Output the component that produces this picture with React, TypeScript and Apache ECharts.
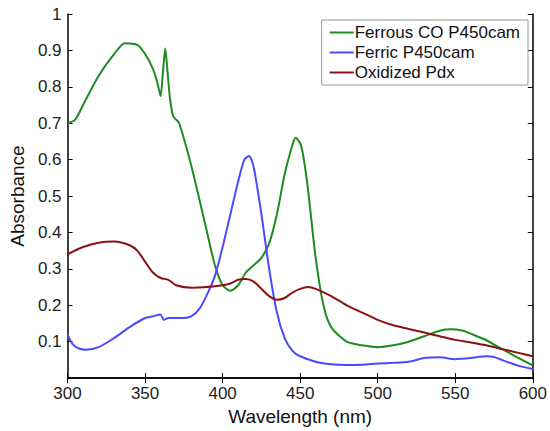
import React, { useEffect, useRef } from "react";
import * as echarts from "echarts";

const ferrousX = [300, 305, 310, 320, 330, 337, 345, 350, 355, 358, 360, 361.5, 363, 364.5, 366, 368, 370, 372, 380, 390, 395, 400, 405, 410, 415, 420, 425, 430, 435, 440, 445, 447, 450, 452, 455, 460, 465, 470, 480, 490, 500, 510, 520, 530, 540, 547, 555, 560, 570, 580, 590, 600];
const ferrousY = [0.70, 0.71, 0.75, 0.83, 0.89, 0.92, 0.915, 0.89, 0.85, 0.81, 0.775, 0.84, 0.905, 0.84, 0.77, 0.72, 0.71, 0.70, 0.58, 0.40, 0.31, 0.255, 0.24, 0.255, 0.29, 0.31, 0.33, 0.37, 0.45, 0.56, 0.64, 0.66, 0.645, 0.61, 0.52, 0.33, 0.20, 0.14, 0.10, 0.09, 0.085, 0.09, 0.10, 0.115, 0.13, 0.134, 0.13, 0.122, 0.104, 0.08, 0.057, 0.035];

const ferricX = [300, 303, 307, 312, 320, 330, 340, 350, 355, 360, 362, 365, 370, 375, 380, 385, 390, 395, 400, 405, 410, 414, 417, 420, 425, 430, 435, 440, 445, 450, 460, 470, 480, 490, 500, 510, 520, 530, 540, 550, 560, 570, 575, 580, 590, 600];
const ferricY = [0.12, 0.095, 0.082, 0.078, 0.085, 0.11, 0.14, 0.165, 0.17, 0.175, 0.16, 0.165, 0.165, 0.165, 0.17, 0.19, 0.23, 0.28, 0.36, 0.45, 0.54, 0.60, 0.61, 0.58, 0.45, 0.30, 0.18, 0.11, 0.075, 0.06, 0.045, 0.038, 0.036, 0.037, 0.040, 0.042, 0.045, 0.055, 0.057, 0.052, 0.055, 0.060, 0.058, 0.05, 0.035, 0.025];

const pdxX = [300, 310, 320, 330, 340, 345, 350, 355, 360, 365, 370, 380, 390, 400, 405, 410, 415, 420, 425, 430, 435, 440, 445, 450, 455, 460, 470, 480, 490, 500, 510, 520, 530, 540, 550, 560, 570, 580, 590, 600];
const pdxY = [0.34, 0.36, 0.372, 0.375, 0.365, 0.35, 0.32, 0.29, 0.275, 0.27, 0.255, 0.248, 0.25, 0.255, 0.26, 0.27, 0.272, 0.265, 0.245, 0.225, 0.215, 0.22, 0.235, 0.245, 0.25, 0.245, 0.225, 0.2, 0.18, 0.16, 0.145, 0.135, 0.125, 0.115, 0.105, 0.098, 0.09, 0.08, 0.07, 0.06];

const seriesNames = ["Ferrous CO P450cam", "Ferric P450cam", "Oxidized Pdx"];
const seriesColors = ["#1f8c1f", "#4a4aff", "#8b1111"];

const zip = (xs: number[], ys: number[]) => xs.map((x, i) => [x, ys[i]]);

export default function App() {
  const ref = useRef<HTMLDivElement>(null);
  useEffect(() => {
    if (!ref.current) return;
    const chart = echarts.init(ref.current, null, { renderer: "svg" });
    const font = "Liberation Sans, Arial, sans-serif";
    const axisLine = { show: true, lineStyle: { color: "#000", width: 1.5 } };
    const tick = { show: true, inside: true, length: 5, lineStyle: { color: "#000" } };
    chart.setOption({
      animation: false,
      backgroundColor: "#fff",
      textStyle: { fontFamily: font },
      grid: { left: 59, right: 17, top: 14, bottom: 42 },
      legend: {
        right: 22,
        top: 20,
        orient: "vertical",
        itemWidth: 24,
        itemHeight: 2,
        itemGap: 3,
        padding: [4, 8, 4, 8],
        borderColor: "#999",
        borderWidth: 1,
        backgroundColor: "#fff",
        icon: "rect",
        textStyle: { fontSize: 17, color: "#111", fontFamily: font, padding: [0, 0, 0, -4] },
        data: seriesNames,
      },
      xAxis: [
        {
          type: "value",
          min: 300,
          max: 600,
          interval: 50,
          name: "Wavelength (nm)",
          nameLocation: "middle",
          nameGap: 23,
          nameTextStyle: { fontSize: 19, color: "#111", fontFamily: font },
          axisLine,
          axisTick: tick,
          axisLabel: { fontSize: 17, color: "#222", margin: 7, fontFamily: font },
          splitLine: { show: false },
        },
        {
          type: "value",
          position: "top",
          min: 300,
          max: 600,
          interval: 50,
          axisLine,
          axisTick: tick,
          axisLabel: { show: false },
          splitLine: { show: false },
        },
      ],
      yAxis: [
        {
          type: "value",
          min: 0,
          max: 1,
          interval: 0.1,
          name: "Absorbance",
          nameLocation: "middle",
          nameGap: 36,
          nameTextStyle: { fontSize: 19, color: "#111", fontFamily: font },
          axisLine,
          axisTick: tick,
          axisLabel: {
            fontSize: 17,
            color: "#222",
            margin: 6,
            fontFamily: font,
            formatter: (v: number) => (v === 0 ? "" : String(Math.round(v * 10) / 10)),
          },
          splitLine: { show: false },
        },
        {
          type: "value",
          position: "right",
          min: 0,
          max: 1,
          interval: 0.1,
          axisLine,
          axisTick: tick,
          axisLabel: { show: false },
          splitLine: { show: false },
        },
      ],
      series: [
        { name: seriesNames[0], type: "line", data: zip(ferrousX, ferrousY), color: seriesColors[0], smooth: 0.25, showSymbol: false, lineStyle: { width: 2 } },
        { name: seriesNames[1], type: "line", data: zip(ferricX, ferricY), color: seriesColors[1], smooth: 0.25, showSymbol: false, lineStyle: { width: 2 } },
        { name: seriesNames[2], type: "line", data: zip(pdxX, pdxY), color: seriesColors[2], smooth: 0.25, showSymbol: false, lineStyle: { width: 2 } },
      ],
    });
    return () => chart.dispose();
  }, []);
  return <div ref={ref} style={{ width: 550, height: 431, position: "absolute", left: 0, top: 0 }} />;
}
